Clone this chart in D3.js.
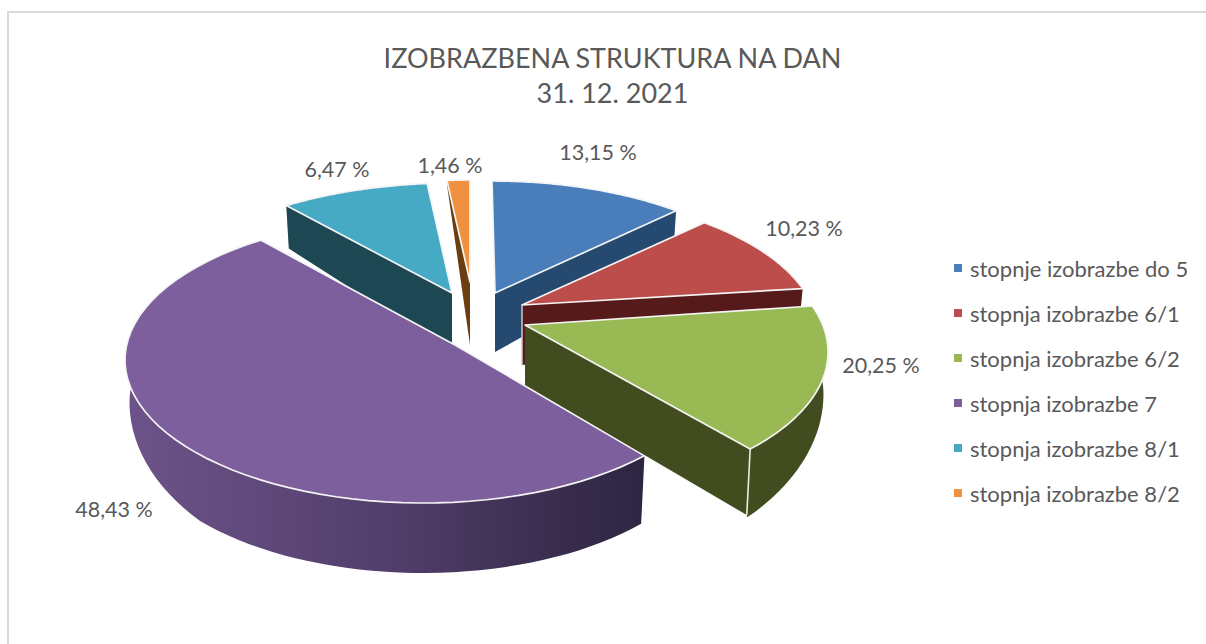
<!DOCTYPE html>
<html>
<head>
<meta charset="utf-8">
<style>
html,body{margin:0;padding:0;background:#fff}
svg{display:block}
text{font-family:Lato,"Open Sans",sans-serif;fill:#595959}
</style>
<script src="https://cdn.jsdelivr.net/npm/d3@7"></script>
</head>
<body>
<svg id="c" width="1206" height="644"></svg>
<script>
// ---- data ----
const titleLines = ["IZOBRAZBENA STRUKTURA NA DAN", "31. 12. 2021"];
const categories = ["stopnje izobrazbe do 5","stopnja izobrazbe 6/1","stopnja izobrazbe 6/2","stopnja izobrazbe 7","stopnja izobrazbe 8/1","stopnja izobrazbe 8/2"];
const shares = [13.15, 10.23, 20.25, 48.43, 6.47, 1.46];
const shareLabels = ["13,15 %","10,23 %","20,25 %","48,43 %","6,47 %","1,46 %"];

// ---- styles ----
const topColors  = ["#4a7ebb","#bd4d4a","#98b954","#7d5f9e","#46aac4","#f0913f"];
const wallColors = ["#25496f","#551a19","#414d1f","url(#purpleWall)","#1d4752","#6b3e12"];

// ---- 3D look: how the slices are exploded and foreshortened ----
const pieCentre = [480, 330];
const explodeX = [12, 42, 45, -57, -26, -10];
const explodeY = [-9, 3, 22, 30, -7, -10];
const radiusX  = [299, 296, 303, 298, 308, 265];
const radiusY  = [140, 140, 145, 143, 140, 140];
const apexDX   = [3, 0, 0, 32, -2, 0];
const apexDY   = [-28, -28, -27, -15, -30, -38];
const apexDepth = [59, 60, 60, 60, 60, 63];
const edgeDepth = [42, 42, 66, 0, 43, 6];
const radialWall = ["end","end","end",null,"start","start"];
const drawOrder = [4, 5, 0, 1, 3, 2];
const perspectiveDeg = [0, 38, 71.5, 132, 327, 355, 360];
const labelX = [598, 804, 881, 114, 337, 450];
const labelY = [152, 228, 365, 509, 169, 165];

const svg = d3.select("#c");
const rad = d => d * Math.PI / 180;

const defs = svg.append("defs");
const grad = defs.append("linearGradient").attr("id","purpleWall")
  .attr("gradientUnits","userSpaceOnUse").attr("x1",125).attr("x2",645).attr("y1",0).attr("y2",0);
[[0,"#6d5389"],[0.3,"#5d4778"],[0.55,"#4f3c68"],[0.75,"#3f3155"],[1,"#2e2542"]]
  .forEach(s => grad.append("stop").attr("offset",s[0]).attr("stop-color",s[1]));

// frame: only the top and left edges fall inside the picture
svg.append("path").attr("d", d3.line()([[8,644],[8,12],[1206,12]]))
  .attr("fill","none").attr("stroke","#d9d9d9").attr("stroke-width",2);

// title
svg.append("g").selectAll("text").data(titleLines).join("text")
  .attr("x",612.5).attr("y",(d,i)=>57+i*35).attr("text-anchor","middle")
  .attr("dominant-baseline","central").attr("font-size",27).text(d=>d);

const arcs = d3.pie().sort(null)(shares);
const warp = d3.scaleLinear()
  .domain([0].concat(arcs.map(a=>a.endAngle)))
  .range(perspectiveDeg.map(rad));
const depthAt = d3.scaleLinear().domain([-1,-0.65,0]).range([70,68,42]).clamp(true);
const line = d3.line();

const cx = i => pieCentre[0] + explodeX[i];
const cy = i => pieCentre[1] + explodeY[i];
const apex = i => [cx(i)+apexDX[i], cy(i)+apexDY[i]];
const rim = (i,u) => [cx(i)+radiusX[i]*Math.sin(u), cy(i)-radiusY[i]*Math.cos(u)];
const rimLow = (i,u,dep) => [cx(i)+0.985*radiusX[i]*Math.sin(u), cy(i)-radiusY[i]*Math.cos(u)+dep];
const samples = (a,b) => d3.range(0,61).map(k => a+(b-a)*k/60);

const pies = svg.append("g");
drawOrder.forEach(i => {
  const u0 = warp(arcs[i].startAngle), u1 = warp(arcs[i].endAngle);
  const g = pies.append("g");
  const ap = apex(i);
  // radial wall
  if (radialWall[i]) {
    const u = radialWall[i]==="end" ? u1 : u0;
    const r = rim(i,u), low = rimLow(i,u,edgeDepth[i]);
    g.append("path").attr("d", line([ap, r, low, [ap[0], ap[1]+apexDepth[i]]])+"Z")
      .attr("fill",wallColors[i]);
  }
  // outer wall on the near side
  const nearStart = Math.max(u0, rad(80)), nearEnd = Math.min(u1, rad(290));
  if (nearEnd > nearStart) {
    const us = samples(nearStart, nearEnd);
    const top = us.map(u=>rim(i,u));
    const low = us.map(u=>rimLow(i,u,depthAt(Math.cos(u)))).reverse();
    g.append("path").attr("d", line(top.concat(low))+"Z").attr("fill",wallColors[i]);
    if (radialWall[i]==="end") {
      const r = rim(i,u1), b = rimLow(i,u1,edgeDepth[i]);
      g.append("path").attr("d", line([r,b])).attr("stroke","#e9ecdf").attr("stroke-width",1.6).attr("fill","none");
    }
  }
  // top face
  const face = [ap].concat(samples(u0,u1).map(u=>rim(i,u)));
  g.append("path").attr("d", line(face)+"Z").attr("fill",topColors[i])
    .attr("stroke","#f4f4f4").attr("stroke-width",1.7).attr("stroke-linejoin","round");
  // edge-on seam of the red slice
  if (i===1) {
    g.append("path").attr("d", line([ap,[ap[0],ap[1]+apexDepth[i]]]))
      .attr("stroke","#cfc8c4").attr("stroke-width",1.5).attr("fill","none");
  }
});

// data labels
svg.append("g").selectAll("text").data(shareLabels).join("text")
  .attr("x",(d,i)=>labelX[i]).attr("y",(d,i)=>labelY[i]).attr("text-anchor","middle")
  .attr("dominant-baseline","central").attr("font-size",21.5).text(d=>d);

// legend
const rowY = d3.scalePoint().domain(categories).range([268,493]);
const leg = svg.append("g").selectAll("g").data(categories).join("g")
  .attr("transform",d=>`translate(954,${rowY(d)})`);
leg.append("rect").attr("x",0).attr("y",-4).attr("width",8).attr("height",8)
  .attr("fill",(d,i)=>topColors[i]);
leg.append("text").attr("x",16).attr("y",0).attr("dominant-baseline","central")
  .attr("font-size",22).text(d=>d);
</script>
</body>
</html>
